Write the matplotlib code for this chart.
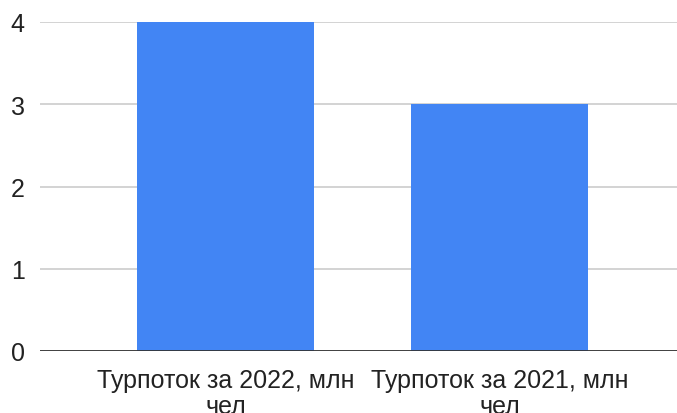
import matplotlib.pyplot as plt
import numpy as np

plt.rcParams['font.family'] = ['Liberation Sans', 'DejaVu Sans']

categories = ["Турпоток за 2022, млн\nчел", "Турпоток за 2021, млн\nчел"]
values = [4, 3]
yticks = [0, 1, 2, 3, 4]

fig = plt.figure(figsize=(6.77, 4.14), dpi=100)
ax = fig.add_axes([40 / 677, 1 - 352 / 414, 1 - 40 / 677, (352 - 23) / 414])

x = np.arange(len(values))
ax.bar(x, values, width=0.646, color="#4285f4", zorder=3)

ax.set_xlim(-0.677, 1.648)
ax.set_ylim(0, 4)
ax.set_yticks(yticks)
ax.yaxis.grid(True, color="#cccccc", linewidth=1.2, zorder=0)
ax.axhline(0, color="#333333", linewidth=2, zorder=4)
ax.tick_params(axis="y", length=0, labelsize=18, pad=11, labelcolor="#222222")
ax.set_xticks(x)
ax.set_xticklabels(categories, fontsize=18, linespacing=1.1, color="#222222")
ax.tick_params(axis="x", length=0, pad=12)
for s in ax.spines.values():
    s.set_visible(False)

fig.savefig("out.png", dpi=100)
